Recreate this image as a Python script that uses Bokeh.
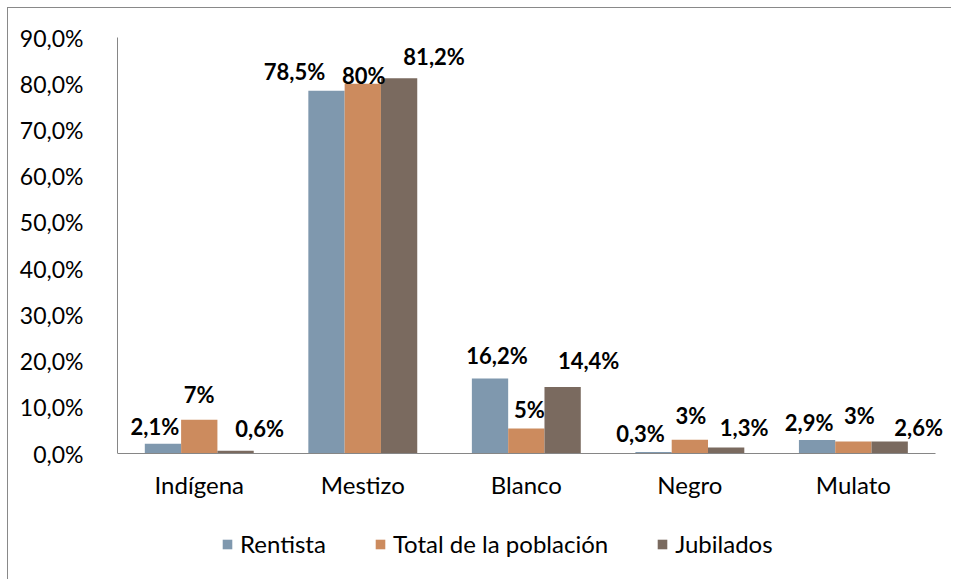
from bokeh.plotting import figure
from bokeh.models import (ColumnDataSource, FixedTicker, Legend, LegendItem,
                          LabelSet, Range1d)
from bokeh.core.properties import value
from bokeh.embed import file_html
from bokeh.resources import INLINE

categories = ["Indígena", "Mestizo", "Blanco", "Negro", "Mulato"]
series_names = ["Rentista", "Total de la población", "Jubilados"]
rentista = [2.1, 78.5, 16.2, 0.3, 2.9]
total = [7.3, 80.0, 5.4, 3.0, 2.6]
jubilados = [0.6, 81.2, 14.4, 1.3, 2.6]
y_ticks = [0, 10, 20, 30, 40, 50, 60, 70, 80, 90]
y_tick_labels = ["0,0%", "10,0%", "20,0%", "30,0%", "40,0%", "50,0%", "60,0%", "70,0%", "80,0%", "90,0%"]

# styling / label placement (screen pixel offsets relative to the top of each bar)
colors = ["#7F98AE", "#CC8B5E", "#7A6A5F"]
label_dx = [[-8, -32, 7, -13, -8], [0, 1, 3, 1, 6], [24, 35, 26, 18, 29]]
label_up = [[17, 19, 23, 19, 18], [25, 8, 19, 24, 26], [22, 22, 26, 20, 14]]
bar_w = 0.222
offsets = [-bar_w, 0.0, bar_w]
FONT = "Lato"
n = len(categories)
x_extra = 0.1          # room right of the axis end for the outermost label
axis_px = 416          # pixel height of the 0..90 value axis
below_px = 126         # room under the value axis for category labels and legend
y_max = y_ticks[-1]
y_low = -y_max * below_px / axis_px


def fmt(v, decimals):
    return (f"{v:.{decimals}f}").replace(".", ",") + "%"


cat_pos = [i + 0.5 for i in range(n)]

p = figure(x_range=Range1d(0, n + x_extra), y_range=Range1d(y_low, y_max),
           frame_width=round(818 * (n + x_extra) / n), frame_height=axis_px + below_px,
           min_border_left=109, min_border_right=0, min_border_top=29, min_border_bottom=0,
           output_backend="svg", toolbar_location=None,
           background_fill_color="white", border_fill_color="white",
           styles={"margin-left": "7px", "margin-top": "7px",
                   "border-left": "1px solid #898989", "border-top": "1px solid #898989"})
p.outline_line_color = None
p.xgrid.grid_line_color = None
p.ygrid.grid_line_color = None

values = [rentista, total, jubilados]
decs = [1, 0, 1]
items = []
for i, (name, vals) in enumerate(zip(series_names, values)):
    src = ColumnDataSource(dict(x=[c + offsets[i] for c in cat_pos], val=vals,
                                lab=[fmt(v, decs[i]) for v in vals],
                                dx=label_dx[i], dy=label_up[i]))
    r = p.vbar(x="x", top="val", bottom=0, width=bar_w,
               source=src, fill_color=colors[i], line_color=None)
    p.add_layout(LabelSet(x="x", y="val", text="lab",
                          x_offset="dx", y_offset="dy", source=src,
                          text_font=value(FONT), text_font_style="bold", text_font_size="22px",
                          text_align="center", text_baseline="middle", text_color="black"))
    items.append(LegendItem(label=name, renderers=[r]))

p.yaxis.ticker = FixedTicker(ticks=y_ticks)
p.yaxis.major_label_overrides = {t: l for t, l in zip(y_ticks, y_tick_labels)}
p.yaxis.bounds = (0, y_max)
p.xaxis.ticker = FixedTicker(ticks=cat_pos)
p.xaxis.major_label_overrides = {c: name for c, name in zip(cat_pos, categories)}
p.xaxis.bounds = (0, n)
p.xaxis.fixed_location = 0
for ax in (p.xaxis, p.yaxis):
    ax.axis_line_color = "#868686"
    ax.axis_line_width = 1
    ax.major_tick_line_color = None
    ax.minor_tick_line_color = None
    ax.major_label_text_font = FONT
    ax.major_label_text_color = "black"
p.yaxis.major_label_text_font_size = "23px"
p.xaxis.major_label_text_font_size = "24px"
p.yaxis.major_label_standoff = 28
p.xaxis.major_label_standoff = 10

legend = Legend(items=items, orientation="horizontal", location=(104, 21),
                label_text_font=FONT, label_text_font_size="24px", label_text_color="black",
                glyph_width=12, glyph_height=12, label_standoff=7, spacing=48,
                border_line_color=None, background_fill_alpha=0, padding=0, margin=0)
p.add_layout(legend, "center")

open("out.html", "w").write(file_html(p, INLINE))
